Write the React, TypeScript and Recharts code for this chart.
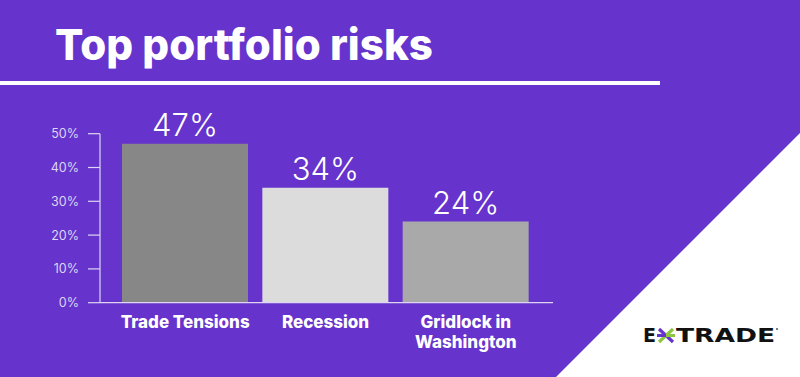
import React from "react";
import { BarChart, Bar, XAxis, YAxis, Cell, LabelList } from "recharts";

const categories = ["Trade Tensions", "Recession", "Gridlock in Washington"];
const values = [47, 34, 24];
const barColors = ["#878787", "#dcdcdc", "#a9a9a9"];
const tickLabelLines: Record<string, string[]> = {
  "Trade Tensions": ["Trade Tensions"],
  Recession: ["Recession"],
  "Gridlock in Washington": ["Gridlock in", "Washington"],
};
const yTicks = [0, 10, 20, 30, 40, 50];
const title = "Top portfolio risks";

const data = categories.map((name, i) => ({ name, value: values[i] }));

const PURPLE = "#6633cc";
const AXIS = "#ddd6f3";

const XTick = (props: any) => {
  const { x, y, payload } = props;
  const lines = tickLabelLines[payload.value] || [payload.value];
  return (
    <g>
      {lines.map((l, i) => (
        <text
          key={i}
          x={x}
          y={y + 25.6 + i * 20}
          textAnchor="middle"
          fill="#ffffff"
          fontFamily="Inter, sans-serif"
          fontWeight={800}
          fontSize={17}
        >
          {l}
        </text>
      ))}
    </g>
  );
};

const ValueLabel = (props: any) => {
  const { x, y, width, value } = props;
  return (
    <text
      x={x + width / 2}
      y={y - 8}
      textAnchor="middle"
      fill="#ffffff"
      fontFamily="Inter, sans-serif"
      fontWeight={300}
      fontSize={31}
    >
      {`${value}%`}
    </text>
  );
};

export default function App() {
  return (
    <div
      style={{
        position: "fixed",
        left: 0,
        top: 0,
        width: 800,
        height: 377,
        background: PURPLE,
        overflow: "hidden",
      }}
    >
      <svg
        width={800}
        height={377}
        style={{ position: "absolute", left: 0, top: 0 }}
      >
        <polygon points="800,133 800,377 556,377" fill="#ffffff" />
        <rect x={0} y={81} width={660} height={4} fill="#ffffff" />
        <text
          x={55}
          y={60}
          fill="#ffffff"
          fontFamily="Inter, sans-serif"
          fontWeight={800}
          fontSize={43}
          textLength={378}
          lengthAdjust="spacingAndGlyphs"
        >
          {title}
        </text>
        <g>
          <text
            x={643}
            y={342}
            fill="#111111"
            fontFamily="'DejaVu Sans', sans-serif"
            fontWeight={700}
            fontSize={19}
            textLength={13}
            lengthAdjust="spacingAndGlyphs"
          >
            E
          </text>
          <line x1={659} y1={329} x2={673} y2={342} stroke="#6633cc" strokeWidth={3.2} />
          <line x1={673} y1={329} x2={659} y2={342} stroke="#8dc63f" strokeWidth={3.2} />
          <line x1={657} y1={335.5} x2={666} y2={335.5} stroke="#6633cc" strokeWidth={3} />
          <line x1={666} y1={335.5} x2={675} y2={335.5} stroke="#8dc63f" strokeWidth={3} />
          <text
            x={676}
            y={342}
            fill="#111111"
            fontFamily="'DejaVu Sans', sans-serif"
            fontWeight={700}
            fontSize={19}
            textLength={99}
            lengthAdjust="spacingAndGlyphs"
          >
            TRADE
          </text>
          <circle cx={777} cy={329} r={1} fill="#555" />
        </g>
      </svg>
      <div style={{ position: "absolute", left: 0, top: 0 }}>
        <BarChart
          width={800}
          height={377}
          data={data}
          margin={{ top: 133.7, right: 247, bottom: 14.3, left: 0 }}
        >
          <XAxis
            dataKey="name"
            height={60}
            padding={{ left: 15, right: 17 }}
            axisLine={{ stroke: AXIS, strokeWidth: 1.2 }}
            tickLine={false}
            tickSize={0}
            tickMargin={0}
            tick={<XTick />}
            interval={0}
          />
          <YAxis
            width={100}
            domain={[0, 50]}
            ticks={yTicks}
            allowDataOverflow
            axisLine={{ stroke: AXIS, strokeWidth: 1.2 }}
            tickLine={{ stroke: AXIS, strokeWidth: 1.2 }}
            tickSize={12}
            tickMargin={9}
            tickFormatter={(v: number) => `${v}%`}
            tick={{ fill: AXIS, fontSize: 12.5, fontFamily: "Inter, sans-serif" }}
          />
          <Bar dataKey="value" barSize={126} isAnimationActive={false}>
            {data.map((d, i) => (
              <Cell key={d.name} fill={barColors[i]} />
            ))}
            <LabelList dataKey="value" content={<ValueLabel />} />
          </Bar>
        </BarChart>
      </div>
    </div>
  );
}
